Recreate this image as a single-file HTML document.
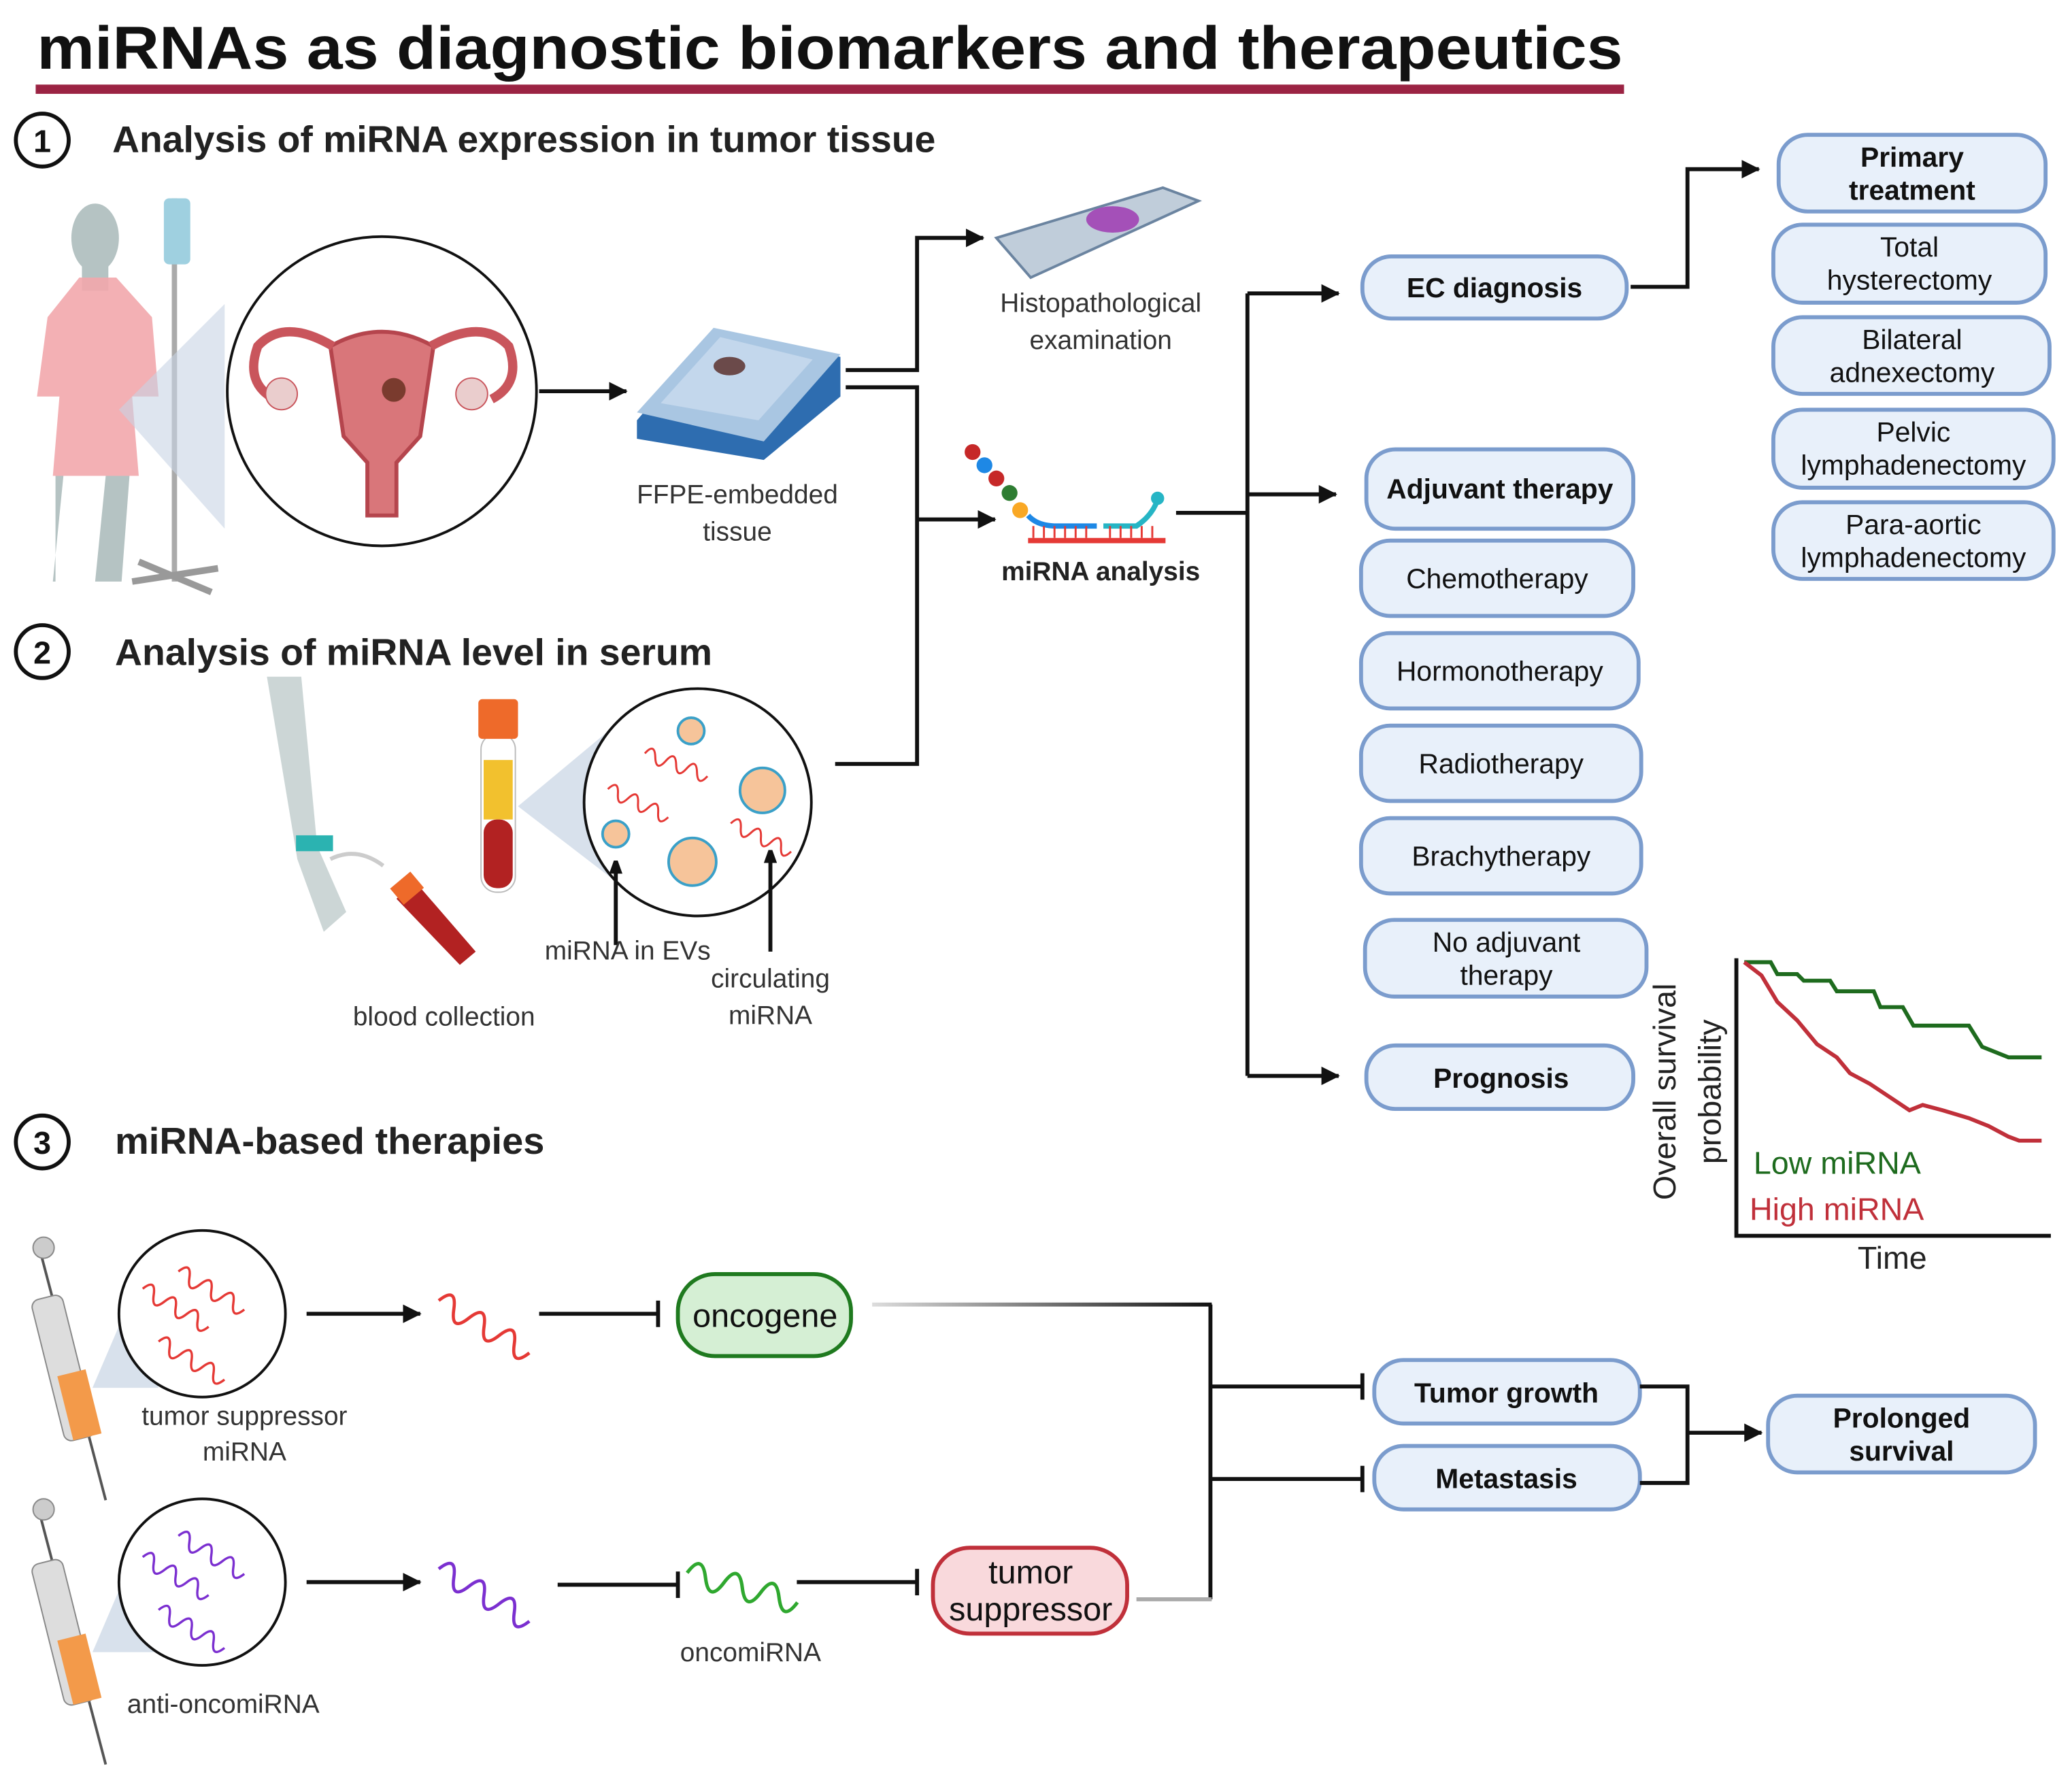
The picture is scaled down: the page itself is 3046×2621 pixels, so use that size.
<!DOCTYPE html>
<html><head><meta charset="utf-8"><style>
html,body{margin:0;padding:0;background:#fff;}
svg{display:block;}
text{font-family:"Liberation Sans",Arial,sans-serif;}
</style></head><body>
<svg width="3046" height="2621" viewBox="0 0 1568 1349" preserveAspectRatio="none" xmlns="http://www.w3.org/2000/svg">
<defs>
<marker id="ar" markerWidth="10" markerHeight="10" refX="9" refY="5" orient="auto" markerUnits="userSpaceOnUse"><path d="M0,0 L14,5 L0,10 Z" fill="#111"/></marker>
<marker id="ar2" viewBox="0 0 14 14" markerWidth="14" markerHeight="14" refX="13" refY="7" orient="auto" markerUnits="userSpaceOnUse"><path d="M0,0 L14,7 L0,14 Z" fill="#111"/></marker>
<path id="wv" d="M0,0 c4,-10 8,-10 12,0 s8,10 12,0 s8,-10 12,0 s8,10 12,0 s8,-10 12,0 s8,10 12,0" fill="none" stroke-width="2.2"/>
<linearGradient id="gg" gradientUnits="userSpaceOnUse" x1="660" y1="0" x2="917" y2="0"><stop offset="0" stop-color="#ddd"/><stop offset="1" stop-color="#111"/></linearGradient>
</defs>

<text x="28" y="52" font-size="46" font-weight="bold" fill="#111" textLength="1200" lengthAdjust="spacingAndGlyphs">miRNAs as diagnostic biomarkers and therapeutics</text>
<rect x="27" y="64" width="1202" height="7" fill="#9b2343"/>

<g fill="none" stroke="#111" stroke-width="3">
<circle cx="32" cy="106" r="20"/><circle cx="32" cy="493" r="20"/><circle cx="32" cy="864" r="20"/>
</g>
<g font-weight="bold" fill="#111" text-anchor="middle" font-size="24">
<text x="32" y="115">1</text><text x="32" y="502">2</text><text x="32" y="873">3</text>
</g>
<g font-weight="bold" fill="#222" font-size="28">
<text x="85" y="115" textLength="623" lengthAdjust="spacingAndGlyphs">Analysis of miRNA expression in tumor tissue</text>
<text x="87" y="503" textLength="452" lengthAdjust="spacingAndGlyphs">Analysis of miRNA level in serum</text>
<text x="87" y="873" textLength="325" lengthAdjust="spacingAndGlyphs">miRNA-based therapies</text>
</g>

<ellipse cx="72" cy="180" rx="18" ry="26" fill="#b5c3c3"/>
<rect x="62" y="200" width="20" height="20" fill="#b5c3c3"/>
<path d="M40,440 L48,360 L42,360 L42,440 Z M72,440 L80,360 L98,360 L92,440 Z" fill="#b5c3c3"/>
<path d="M60,210 L88,210 L115,240 L120,300 L100,300 L105,360 L40,360 L45,300 L28,300 L36,240 Z" fill="#f2a7ac" opacity="0.9"/>
<rect x="130" y="150" width="4" height="290" fill="#aaa"/>
<rect x="124" y="150" width="20" height="50" rx="4" fill="#9fd0e0"/>
<path d="M100,440 L165,430 M105,425 L160,448" stroke="#999" stroke-width="5"/>
<path d="M90,310 L170,230 L170,400 Z" fill="#c8d4e4" opacity="0.6"/>
<circle cx="289" cy="296" r="117" fill="#fff" stroke="#111" stroke-width="2"/>
<path d="M250,262 Q289,240 328,262 L318,330 L300,350 L300,390 L278,390 L278,350 L260,330 Z" fill="#d9767a" stroke="#b5454d" stroke-width="3"/>
<path d="M252,262 Q215,240 195,262 Q185,290 208,302 M326,262 Q365,240 385,262 Q395,290 372,302" fill="none" stroke="#c9555c" stroke-width="7"/>
<circle cx="213" cy="298" r="12" fill="#eacdcd" stroke="#c9555c"/><circle cx="357" cy="298" r="12" fill="#eacdcd" stroke="#c9555c"/>
<circle cx="298" cy="295" r="9" fill="#7a3b2e"/>
<path d="M408,296 L474,296" stroke="#111" stroke-width="3" marker-end="url(#ar2)"/>
<path d="M482,318 L540,250 L636,270 L636,300 L578,348 L482,332 Z" fill="#2e6db0"/>
<path d="M482,312 L540,248 L636,268 L578,334 Z" fill="#a9c6e2"/>
<path d="M500,305 L545,255 L615,272 L574,318 Z" fill="#c3d7ec"/>
<ellipse cx="552" cy="277" rx="12" ry="7" fill="#6b4a4a"/>
<text x="558" y="381" font-size="20" fill="#333" text-anchor="middle">FFPE-embedded</text>
<text x="558" y="409" font-size="20" fill="#333" text-anchor="middle">tissue</text>
<path d="M754,180 L880,142 L907,152 L780,210 Z" fill="#c0cdda" stroke="#6b84a0" stroke-width="2"/>
<ellipse cx="842" cy="166" rx="20" ry="10" fill="#a450b8"/>
<text x="833" y="236" font-size="20" fill="#333" text-anchor="middle">Histopathological</text>
<text x="833" y="264" font-size="20" fill="#333" text-anchor="middle">examination</text>
<circle cx="736" cy="342" r="6" fill="#c62828"/><circle cx="745" cy="352" r="6" fill="#1e88e5"/><circle cx="754" cy="362" r="6" fill="#c62828"/><circle cx="764" cy="373" r="6" fill="#2e7d32"/><circle cx="772" cy="386" r="6" fill="#f9a825"/>
<path d="M778,390 Q785,398 800,398 L830,398" stroke="#1e88e5" stroke-width="4" fill="none"/>
<path d="M835,398 L860,398 Q872,390 876,378" stroke="#26b5c5" stroke-width="4" fill="none"/>
<circle cx="876" cy="377" r="5" fill="#26b5c5"/>
<rect x="778" y="407" width="104" height="4" fill="#e53935"/>
<path d="M782,398 v9 M790,398 v9 M798,398 v9 M806,398 v9 M814,398 v9 M822,398 v9 M840,398 v9 M848,398 v9 M856,398 v9 M864,398 v9 M872,398 v9" stroke="#e53935" stroke-width="1.5"/>
<text x="833" y="439" font-size="20" font-weight="bold" fill="#222" text-anchor="middle">miRNA analysis</text>

<path d="M202,512 L228,512 L240,640 L262,690 L245,705 L225,650 Z" fill="#ccd6d6"/>
<rect x="224" y="632" width="28" height="12" fill="#2bb3b1"/>
<path d="M250,650 Q270,640 290,655" stroke="#ccc" stroke-width="3" fill="none"/>
<path d="M300,680 L315,668 L360,720 L348,730 Z" fill="#b22222"/>
<rect x="298" y="664" width="20" height="16" fill="#ee6a2a" transform="rotate(-40 308 672)"/>
<rect x="364" y="555" width="26" height="120" rx="12" fill="#fff" stroke="#bbb"/>
<rect x="366" y="575" width="22" height="45" fill="#f2c12e"/>
<rect x="366" y="620" width="22" height="52" rx="10" fill="#b22222"/>
<rect x="362" y="529" width="30" height="30" rx="3" fill="#ee6a2a"/>
<path d="M392,610 L470,545 L470,670 Z" fill="#c8d4e4" opacity="0.7"/>
<circle cx="528" cy="607" r="86" fill="#fff" stroke="#111" stroke-width="2"/>
<g fill="#f6c49a" stroke="#3aa0c8" stroke-width="2">
<circle cx="523" cy="553" r="10"/><circle cx="577" cy="598" r="17"/><circle cx="466" cy="631" r="10"/><circle cx="524" cy="652" r="18"/>
</g>
<g stroke="#e53935"><use href="#wv" transform="translate(488,570) rotate(20) scale(0.7)"/><use href="#wv" transform="translate(460,597) rotate(25) scale(0.7)"/><use href="#wv" transform="translate(553,623) rotate(25) scale(0.7)"/></g>
<path d="M466,715 L466,652" stroke="#111" stroke-width="3" marker-end="url(#ar)"/>
<path d="M583,720 L583,644" stroke="#111" stroke-width="3" marker-end="url(#ar)"/>
<text x="475" y="726" font-size="20" fill="#333" text-anchor="middle">miRNA in EVs</text>
<text x="583" y="747" font-size="20" fill="#333" text-anchor="middle">circulating</text>
<text x="583" y="775" font-size="20" fill="#333" text-anchor="middle">miRNA</text>
<text x="336" y="776" font-size="20" fill="#333" text-anchor="middle">blood collection</text>

<g fill="none" stroke="#111" stroke-width="3">
<path d="M640,280 L694,280 L694,180 L744,180" marker-end="url(#ar2)"/>
<path d="M640,293 L694,293 L694,578 L632,578"/>
<path d="M694,393 L753,393" marker-end="url(#ar2)"/>
<path d="M890,388 L944,388"/>
<path d="M944,222 L944,814"/>
<path d="M944,222 L1013,222" marker-end="url(#ar2)"/>
<path d="M944,374 L1011,374" marker-end="url(#ar2)"/>
<path d="M944,814 L1013,814" marker-end="url(#ar2)"/>
<path d="M1234,217 L1277,217 L1277,128 L1331,128" marker-end="url(#ar2)"/>
</g>

<g fill="#e8f0fa" stroke="#7b9ccd" stroke-width="3">
<rect x="1346" y="102" width="202" height="58" rx="22"/>
<rect x="1342" y="170" width="206" height="59" rx="22"/>
<rect x="1342" y="240" width="209" height="58" rx="22"/>
<rect x="1342" y="310" width="212" height="59" rx="22"/>
<rect x="1342" y="380" width="212" height="58" rx="22"/>
<rect x="1031" y="194" width="200" height="47" rx="22"/>
<rect x="1034" y="340" width="202" height="60" rx="22"/>
<rect x="1030" y="409" width="206" height="57" rx="22"/>
<rect x="1030" y="479" width="210" height="57" rx="22"/>
<rect x="1030" y="549" width="212" height="57" rx="22"/>
<rect x="1030" y="619" width="212" height="57" rx="22"/>
<rect x="1033" y="696" width="213" height="58" rx="22"/>
<rect x="1034" y="791" width="202" height="48" rx="22"/>
<rect x="1040" y="1029" width="201" height="48" rx="22"/>
<rect x="1040" y="1094" width="201" height="48" rx="22"/>
<rect x="1338" y="1056" width="202" height="58" rx="22"/>
</g>
<g font-size="21" fill="#111" text-anchor="middle">
<text x="1447" y="126" font-weight="bold">Primary</text><text x="1447" y="151" font-weight="bold">treatment</text>
<text x="1445" y="194">Total</text><text x="1445" y="219">hysterectomy</text>
<text x="1447" y="264">Bilateral</text><text x="1447" y="289">adnexectomy</text>
<text x="1448" y="334">Pelvic</text><text x="1448" y="359">lymphadenectomy</text>
<text x="1448" y="404">Para-aortic</text><text x="1448" y="429">lymphadenectomy</text>
<text x="1131" y="225" font-weight="bold">EC diagnosis</text>
<text x="1135" y="377" font-weight="bold">Adjuvant therapy</text>
<text x="1133" y="445">Chemotherapy</text>
<text x="1135" y="515">Hormonotherapy</text>
<text x="1136" y="585">Radiotherapy</text>
<text x="1136" y="655">Brachytherapy</text>
<text x="1140" y="720">No adjuvant</text><text x="1140" y="745">therapy</text>
<text x="1136" y="823" font-weight="bold">Prognosis</text>
<text x="1140" y="1061" font-weight="bold">Tumor growth</text>
<text x="1140" y="1126" font-weight="bold">Metastasis</text>
<text x="1439" y="1080" font-weight="bold">Prolonged</text><text x="1439" y="1105" font-weight="bold">survival</text>
</g>

<path d="M1314,725 L1314,935 L1552,935" fill="none" stroke="#111" stroke-width="3"/>
<path d="M1320,728 L1340,728 L1345,737 L1360,737 L1365,742 L1385,742 L1390,750 L1418,750 L1423,762 L1440,762 L1448,776 L1490,776 L1500,792 L1520,800 L1545,800" fill="none" stroke="#1e6b1e" stroke-width="3"/>
<path d="M1320,728 L1333,738 L1345,758 L1360,772 L1375,790 L1390,800 L1400,812 L1415,820 L1430,830 L1445,840 L1455,836 L1470,840 L1490,846 L1505,852 L1520,860 L1528,863 L1545,863" fill="none" stroke="#c0303a" stroke-width="3"/>
<text x="1327" y="888" font-size="24" fill="#1e6b1e">Low miRNA</text>
<text x="1324" y="923" font-size="24" fill="#c0303a">High miRNA</text>
<text x="1432" y="960" font-size="24" fill="#222" text-anchor="middle">Time</text>
<text transform="translate(1268,826) rotate(-90)" font-size="24" fill="#222" text-anchor="middle">Overall survival</text>
<text transform="translate(1302,826) rotate(-90)" font-size="24" fill="#222" text-anchor="middle">probability</text>

<g>
<path d="M30,945 L80,1135" stroke="#555" stroke-width="2"/>
<rect x="36" y="980" width="24" height="110" rx="6" fill="#ddd" stroke="#888" transform="rotate(-14 48 1035)"/>
<rect x="42" y="1040" width="22" height="50" fill="#f39a4a" transform="rotate(-14 48 1035)"/>
<circle cx="33" cy="944" r="8" fill="#ccc" stroke="#888"/>
<path d="M30,1145 L80,1335" stroke="#555" stroke-width="2"/>
<rect x="36" y="1180" width="24" height="110" rx="6" fill="#ddd" stroke="#888" transform="rotate(-14 48 1235)"/>
<rect x="42" y="1240" width="22" height="50" fill="#f39a4a" transform="rotate(-14 48 1235)"/>
<circle cx="33" cy="1142" r="8" fill="#ccc" stroke="#888"/>
<path d="M70,1050 L100,980 L120,1050 Z M70,1250 L100,1180 L120,1250 Z" fill="#c8d4e4" opacity="0.7"/>
<circle cx="153" cy="994" r="63" fill="#fff" stroke="#111" stroke-width="2"/>
<circle cx="153" cy="1197" r="63" fill="#fff" stroke="#111" stroke-width="2"/>
</g>
<g stroke="#e53935"><use href="#wv" transform="translate(135,962) rotate(30) scale(0.8)"/><use href="#wv" transform="translate(108,975) rotate(30) scale(0.8)"/><use href="#wv" transform="translate(120,1015) rotate(30) scale(0.8)"/><use href="#wv" transform="translate(332,984) rotate(30) scale(1.1)"/></g>
<g stroke="#7b2fd0"><use href="#wv" transform="translate(135,1162) rotate(30) scale(0.8)"/><use href="#wv" transform="translate(108,1178) rotate(30) scale(0.8)"/><use href="#wv" transform="translate(120,1218) rotate(30) scale(0.8)"/><use href="#wv" transform="translate(332,1187) rotate(30) scale(1.1)"/></g>
<g stroke="#2fa82f"><use href="#wv" transform="translate(520,1190) rotate(15) scale(1.2)"/></g>
<text x="185" y="1078" font-size="20" fill="#333" text-anchor="middle">tumor suppressor</text>
<text x="185" y="1105" font-size="20" fill="#333" text-anchor="middle">miRNA</text>
<text x="169" y="1296" font-size="20" fill="#333" text-anchor="middle">anti-oncomiRNA</text>
<text x="568" y="1257" font-size="20" fill="#333" text-anchor="middle">oncomiRNA</text>

<rect x="513" y="964" width="131" height="62" rx="28" fill="#d5efd4" stroke="#1f7a1f" stroke-width="3"/>
<text x="579" y="1004" font-size="25" fill="#111" text-anchor="middle">oncogene</text>
<rect x="706" y="1171" width="147" height="65" rx="28" fill="#f9d9dc" stroke="#c0303a" stroke-width="3"/>
<text x="780" y="1198" font-size="25" fill="#111" text-anchor="middle">tumor</text>
<text x="780" y="1226" font-size="25" fill="#111" text-anchor="middle">suppressor</text>

<g fill="none" stroke="#111" stroke-width="3">
<path d="M232,994 L318,994" marker-end="url(#ar2)"/>
<path d="M408,994 L498,994 M498,984 L498,1004"/>
<path d="M232,1197 L318,1197" marker-end="url(#ar2)"/>
<path d="M422,1199 L513,1199 M513,1189 L513,1209"/>
<path d="M603,1197 L694,1197 M694,1187 L694,1207"/>
<path d="M916,987 L916,1210"/>
<path d="M916,1049 L1031,1049 M1031,1039 L1031,1059"/>
<path d="M916,1119 L1031,1119 M1031,1109 L1031,1129"/>
<path d="M1241,1049 L1277,1049 L1277,1122 L1241,1122"/>
<path d="M1277,1084 L1333,1084" marker-end="url(#ar2)"/>
</g>
<path d="M660,987 L917,987" stroke="url(#gg)" stroke-width="3" fill="none"/>
<path d="M860,1210 L917,1210" stroke="#aaa" stroke-width="3"/>
</svg>
</body></html>
